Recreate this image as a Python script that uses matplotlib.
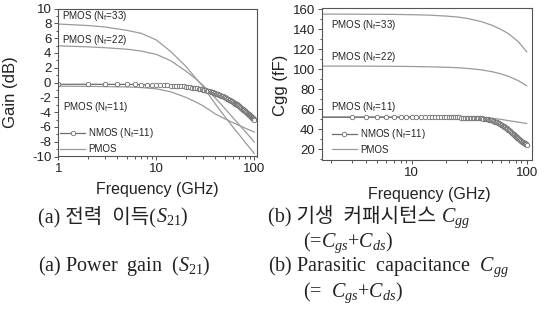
import numpy as np
import matplotlib
matplotlib.use('Agg')
import matplotlib.pyplot as plt
from matplotlib.lines import Line2D
from matplotlib.ticker import MultipleLocator, NullFormatter

# ---- data ----
# PMOS curves, sampled at a few frequencies (GHz)
f_pts = [1, 2, 3, 5, 7, 10, 14, 20, 25, 30, 40, 50, 60, 70, 85, 100]
gain_p33 = [7.90, 7.70, 7.50, 7.05, 6.65, 5.75, 4.20, 2.20, 0.65, -0.55, -2.90, -4.60, -5.95, -7.05, -8.45, -9.60]
gain_p22 = [4.95, 4.82, 4.70, 4.50, 4.25, 3.80, 2.95, 1.55, 0.55, -0.40, -2.10, -3.50, -4.70, -5.70, -6.95, -8.05]
gain_p11 = [-0.50, -0.52, -0.55, -0.60, -0.68, -0.85, -1.25, -2.00, -2.60, -3.15, -4.25, -4.90, -5.40, -5.80, -6.30, -6.70]

cgg_p33 = [155.2, 155.2, 155.1, 155.0, 154.9, 154.6, 154.2, 153.2, 152.3, 151.0, 147.8, 144.0, 139.8, 135.3, 127.3, 117.5]
cgg_p22 = [103.2, 103.2, 103.2, 103.1, 103.0, 102.8, 102.5, 102.0, 101.6, 101.0, 99.5, 97.6, 95.4, 92.8, 88.5, 83.5]
cgg_p11 = [52.2, 52.2, 52.2, 52.2, 52.2, 52.1, 52.1, 52.0, 51.9, 51.8, 51.5, 51.0, 49.9, 48.6, 47.1, 45.8]

# NMOS was simulated at every integer GHz (one marker per point)
f_nmos = np.arange(1, 101)
gain_nmos = [-0.24, -0.24, -0.25, -0.25, -0.26, -0.27, -0.28, -0.30, -0.31, -0.33,
             -0.34, -0.36, -0.39, -0.41, -0.43, -0.46, -0.49, -0.51, -0.54, -0.58,
             -0.61, -0.64, -0.68, -0.72, -0.75, -0.79, -0.84, -0.88, -0.92, -0.96,
             -1.01, -1.05, -1.10, -1.15, -1.20, -1.25, -1.30, -1.35, -1.40, -1.46,
             -1.51, -1.56, -1.62, -1.67, -1.73, -1.78, -1.84, -1.89, -1.95, -2.01,
             -2.07, -2.13, -2.19, -2.24, -2.31, -2.37, -2.43, -2.49, -2.55, -2.61,
             -2.67, -2.73, -2.79, -2.85, -2.91, -2.97, -3.04, -3.10, -3.16, -3.22,
             -3.28, -3.34, -3.40, -3.46, -3.53, -3.59, -3.65, -3.71, -3.77, -3.83,
             -3.90, -3.96, -4.02, -4.08, -4.14, -4.20, -4.26, -4.32, -4.38, -4.44,
             -4.50, -4.56, -4.62, -4.68, -4.74, -4.79, -4.85, -4.91, -4.97, -5.03]
cgg_nmos = [52.1, 52.1, 52.1, 52.1, 52.1, 52.1, 52.1, 52.1, 52.1, 52.1,
            52.0, 52.0, 52.0, 52.0, 52.0, 52.0, 52.0, 52.0, 52.0, 52.0,
            52.0, 52.0, 51.9, 51.9, 51.9, 51.9, 51.8, 51.8, 51.8, 51.7,
            51.7, 51.6, 51.6, 51.5, 51.5, 51.4, 51.3, 51.2, 51.1, 51.0,
            50.9, 50.7, 50.5, 50.3, 50.1, 49.9, 49.7, 49.5, 49.2, 49.0,
            48.6, 48.2, 47.8, 47.4, 47.0, 46.5, 46.0, 45.5, 45.1, 44.6,
            44.1, 43.6, 43.1, 42.6, 42.0, 41.5, 40.9, 40.3, 39.7, 39.1,
            38.5, 37.9, 37.3, 36.7, 36.1, 35.5, 34.9, 34.3, 33.8, 33.2,
            32.7, 32.1, 31.6, 31.1, 30.6, 30.1, 29.6, 29.1, 28.7, 28.2,
            27.8, 27.4, 27.0, 26.6, 26.3, 25.9, 25.6, 25.3, 25.0, 24.7]

labels_pmos = [r'PMOS (N$_\mathsf{f}$=33)', r'PMOS (N$_\mathsf{f}$=22)', r'PMOS (N$_\mathsf{f}$=11)']

# ---- style ----
plt.rcParams['font.family'] = 'Liberation Sans'
plt.rcParams['axes.unicode_minus'] = False
plt.rcParams['mathtext.fontset'] = 'custom'
plt.rcParams['mathtext.rm'] = 'Liberation Serif'
plt.rcParams['mathtext.it'] = 'Liberation Serif:italic'
plt.rcParams['mathtext.sf'] = 'Liberation Sans'

PCOL = '#9a9a9a'
NCOL = '#6e6e6e'
SPINE = '#555555'
TXT = '#222222'

W, H = 547, 325
fig = plt.figure(figsize=(W / 100, H / 100), dpi=100)


def box(x0, y0, x1, y1):
    return [x0 / W, 1 - y1 / H, (x1 - x0) / W, (y1 - y0) / H]


def px(x, y):
    return x / W, 1 - y / H


ax1 = fig.add_axes(box(58.3, 8.5, 256.7, 156.5))
ax2 = fig.add_axes(box(321.7, 8.3, 531.7, 160))

for ax in (ax1, ax2):
    ax.set_xscale('log')
    for s in ax.spines.values():
        s.set_color(SPINE)
        s.set_linewidth(0.8)
    ax.tick_params(which='both', direction='out', color=SPINE, width=0.7,
                   labelsize=9.5, labelcolor=TXT, pad=2)
    ax.tick_params(which='major', length=3)
    ax.tick_params(which='minor', length=1.8)
    ax.xaxis.set_minor_formatter(NullFormatter())

# (a) gain
ax1.set_xlim(1, 105.8)
ax1.set_ylim(-10, 10)
ax1.set_xticks([1, 10, 100], ['1', '10', '100'])
ax1.yaxis.set_major_locator(MultipleLocator(2))
ax1.yaxis.set_minor_locator(MultipleLocator(1))
for g in (gain_p33, gain_p22, gain_p11):
    ax1.plot(f_pts, g, color=PCOL, lw=0.9)
ax1.plot(f_nmos, gain_nmos, color=NCOL, lw=0.9, marker='o', ms=3.2,
         mfc='white', mec=NCOL, mew=0.6)
ax1.set_ylabel('Gain (dB)', fontsize=12, color=TXT)
ax1.yaxis.set_label_coords(-0.203, 0.438)
ax1.set_xlabel('Frequency (GHz)', fontsize=11.5, color=TXT)
ax1.xaxis.set_label_coords(0.5, -0.17)

# (b) Cgg
ax2.set_xlim(1.65, 110.5)
ax2.set_ylim(9.3, 161)
ax2.set_xticks([10, 100], ['10', '100'])
ax2.yaxis.set_major_locator(MultipleLocator(20))
ax2.yaxis.set_minor_locator(MultipleLocator(10))
for c in (cgg_p33, cgg_p22, cgg_p11):
    ax2.plot(f_pts, c, color=PCOL, lw=0.9)
ax2.plot(f_nmos, cgg_nmos, color=NCOL, lw=0.9, marker='o', ms=3.2,
         mfc='white', mec=NCOL, mew=0.6, markevery=slice(2, None))
ax2.set_ylabel('Cgg (fF)', fontsize=12, color=TXT)
ax2.yaxis.set_label_coords(-0.159, 0.494)
ax2.set_xlabel('Frequency (GHz)', fontsize=11.5, color=TXT)
ax2.xaxis.set_label_coords(0.511, -0.176)

# curve labels
for (x, y), s in zip([(62, 15.7), (62, 40), (63.3, 107.3)], labels_pmos):
    fig.text(*px(x, y), s, fontsize=7, color=TXT, va='center', ha='left')
for (x, y), s in zip([(331, 25), (331, 57.3), (331, 107.3)], labels_pmos):
    fig.text(*px(x, y), s, fontsize=7, color=TXT, va='center', ha='left')

# legends
hnd = [Line2D([], [], color=NCOL, lw=0.9, marker='o', ms=3.2, mfc='white', mec=NCOL, mew=0.6),
       Line2D([], [], color=PCOL, lw=0.9)]
lab = [r'NMOS (N$_\mathsf{f}$=11)', 'PMOS']
for ax, anchor in ((ax1, (0.009, 0.203)), (ax2, (0.048, 0.2175))):
    leg = ax.legend(hnd, lab, loc='upper left', bbox_to_anchor=anchor, frameon=False,
                    fontsize=7, handlelength=2.6, handletextpad=0.3, labelspacing=0.4,
                    borderpad=0, borderaxespad=0, numpoints=1)
    for t in leg.get_texts():
        t.set_color(TXT)

# captions
CAP = 14.5
serif_kr = ['Liberation Serif', 'Noto Sans CJK KR']


def chain(prev, s, ybase, **kw):
    return ax1.annotate(s, xy=(1, 1 - ybase / H), xycoords=(prev, 'figure fraction'),
                        va='baseline', ha='left', annotation_clip=False,
                        fontsize=CAP, color=TXT, family='Liberation Serif', **kw)


t = fig.text(*px(38, 222), '(a) 전력  이득(', family=serif_kr, fontsize=CAP, color=TXT, va='baseline')
chain(t, r'$S_{\mathrm{21}}$)', 222)
t = fig.text(*px(268, 222), '(b) 기생  커패시턴스 ', family=serif_kr, fontsize=CAP, color=TXT, va='baseline')
chain(t, r'$C_{gg}$', 222)
fig.text(*px(303, 247), r'(=$C_{gs}$+$C_{ds}$)', family='Liberation Serif', fontsize=CAP,
         color=TXT, va='baseline')
fig.text(*px(38, 271), r'(a) Power  gain  ($S_{\mathrm{21}}$)', family='Liberation Serif',
         fontsize=CAP, color=TXT, va='baseline')
fig.text(*px(268, 271), r'(b) Parasitic  capacitance  $C_{gg}$', family='Liberation Serif',
         fontsize=CAP, color=TXT, va='baseline')
fig.text(*px(303, 297), r'(=  $C_{gs}$+$C_{ds}$)', family='Liberation Serif', fontsize=CAP,
         color=TXT, va='baseline')

fig.savefig('out.png', dpi=100)
